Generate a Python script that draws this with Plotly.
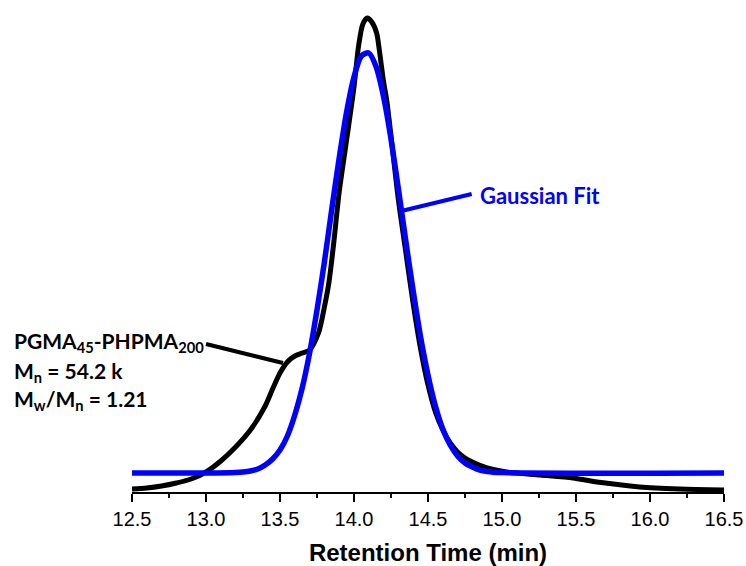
import plotly.graph_objects as go

# GPC trace (black); y is detector response (arbitrary units)
rt_sample = [12.5, 12.6, 12.7, 12.8, 12.9, 13.0, 13.1, 13.2, 13.3, 13.4, 13.45,
             13.5, 13.55, 13.6, 13.65, 13.7, 13.76, 13.8, 13.83, 13.86, 13.9,
             13.95, 14.0, 14.03, 14.06, 14.09, 14.12, 14.153, 14.171, 14.2, 14.221,
             14.26, 14.3, 14.35, 14.4, 14.45, 14.5, 14.55, 14.6, 14.65, 14.7,
             14.75, 14.8, 14.9, 15.03, 15.26, 15.48, 15.6, 15.7, 15.93, 16.2, 16.5]
signal_sample = [3, 4, 6, 9, 13, 20, 31, 45, 62, 86, 103,
                 119, 130, 136, 139, 142, 159, 185, 209, 245, 300,
                 352, 405, 445, 468, 474, 470, 459, 442, 410, 392,
                 343, 292, 240, 188, 143, 107, 80, 62, 49, 40,
                 34, 30, 24, 20, 17, 14, 11, 9, 5, 3, 2]

# Gaussian fit (blue)
rt_fit = [12.5, 13.0, 13.2, 13.25, 13.3, 13.35, 13.4, 13.45, 13.5, 13.55, 13.6,
          13.65, 13.7, 13.75, 13.8, 13.85, 13.9, 13.95, 14.0, 14.05, 14.1,
          14.15, 14.2, 14.25, 14.3, 14.35, 14.4, 14.45, 14.5, 14.55, 14.6,
          14.65, 14.7, 14.75, 14.8, 14.85, 14.9, 15.0, 16.5]
signal_fit = [19, 19, 19.5, 20, 21, 23, 27, 33, 42, 56, 77,
              104, 139, 182, 230, 283, 334, 380, 415, 436, 439,
              425, 395, 353, 303, 251, 201, 155, 117, 86, 63,
              47, 36, 29, 25, 22, 20.5, 19.4, 19]

x_ticks = [12.5, 13.0, 13.5, 14.0, 14.5, 15.0, 15.5, 16.0, 16.5]

line_shape = dict(shape="spline", smoothing=0.8)

fig = go.Figure()
fig.add_trace(go.Scatter(x=rt_sample, y=signal_sample, mode="lines",
                         line=dict(color="black", width=5, **line_shape)))
fig.add_trace(go.Scatter(x=rt_fit, y=signal_fit, mode="lines",
                         line=dict(color="#0000ff", width=5.5, **line_shape)))

# pointer lines
fig.add_shape(type="line", x0=13.0, y0=148, x1=13.52, y1=129,
              line=dict(color="black", width=4))
fig.add_shape(type="line", x0=14.32, y0=281, x1=14.795, y1=298,
              line=dict(color="#0000ff", width=4))

lab_font = dict(family="Lato", size=21, color="black")
left = -0.2027  # text starts near the left edge of the page
fig.add_annotation(x=left, xref="paper", xanchor="left", y=150, yref="y",
                   text="<b>PGMA<sub>45</sub>-PHPMA<sub>200</sub></b>",
                   showarrow=False, font=lab_font)
fig.add_annotation(x=left, xref="paper", xanchor="left", y=120, yref="y",
                   text="<b>M<sub>n</sub> = 54.2 k</b>", showarrow=False, font=lab_font)
fig.add_annotation(x=left, xref="paper", xanchor="left", y=92, yref="y",
                   text="<b>M<sub>w</sub>/M<sub>n</sub> = 1.21</b>", showarrow=False, font=lab_font)
fig.add_annotation(x=14.84, xanchor="left", y=297, text="<b>Gaussian Fit</b>",
                   showarrow=False, font=dict(family="Lato", size=22, color="#0000ff"))

fig.update_layout(
    width=746, height=566,
    margin=dict(l=132, r=22, t=12, b=74),
    plot_bgcolor="white", paper_bgcolor="white",
    showlegend=False,
    xaxis=dict(
        range=[12.5, 16.5], tickvals=x_ticks, tickformat=".1f", automargin=False,
        showline=True, linecolor="black", linewidth=2, showgrid=False, zeroline=False,
        ticks="outside", ticklen=8, tickwidth=2, tickcolor="black",
        minor=dict(dtick=0.25, ticks="outside", ticklen=4, tickwidth=2, tickcolor="black"),
        tickfont=dict(family="Liberation Sans", size=20, color="black"),
        title=dict(text="<b>Retention Time (min)</b>", standoff=15,
                   font=dict(family="Liberation Sans", size=24, color="black")),
    ),
    yaxis=dict(range=[0, 480], visible=False, automargin=False),
)

# drop the default body margin so the figure fills the window exactly
fig.write_html("out.html", config={"displayModeBar": False},
               post_script="document.body.style.margin='0';")
